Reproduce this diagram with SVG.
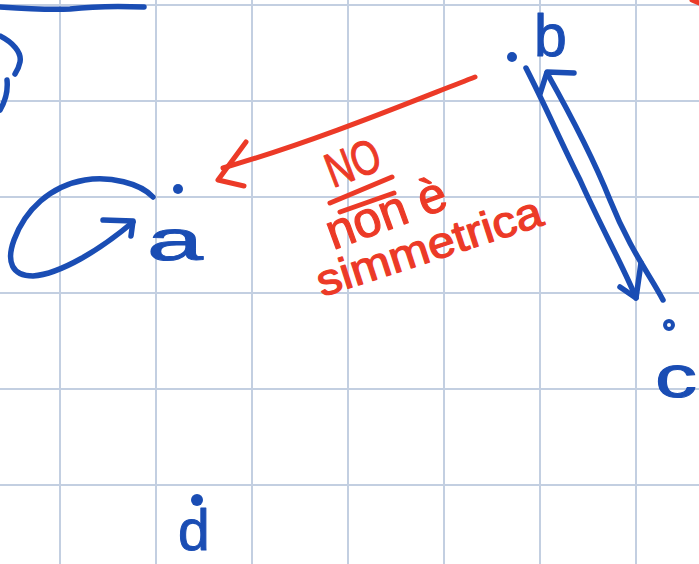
<svg xmlns="http://www.w3.org/2000/svg" width="699" height="564" viewBox="0 0 699 564">
<style>
.grid line{stroke:#c3cfe1;stroke-width:2}
.blue{fill:none;stroke:#1a4db4;stroke-width:5.5;stroke-linecap:round;stroke-linejoin:round}
.red{fill:none;stroke:#ec3a27;stroke-width:5;stroke-linecap:round;stroke-linejoin:round}
.lbl{font-family:"Liberation Sans","Noto Sans",sans-serif;fill:#1a4db4;stroke:#1a4db4;stroke-width:1;stroke-linejoin:round}
.note{font-family:"Liberation Sans","Noto Sans",sans-serif;fill:#ec3a27;stroke:#ec3a27;stroke-width:1.2;stroke-linejoin:round}
.dot{fill:#1a4db4}
</style>
<rect width="699" height="564" fill="#ffffff"/>
<g class="grid">
<line x1="60" y1="0" x2="60" y2="564"/>
<line x1="156" y1="0" x2="156" y2="564"/>
<line x1="252" y1="0" x2="252" y2="564"/>
<line x1="348" y1="0" x2="348" y2="564"/>
<line x1="444" y1="0" x2="444" y2="564"/>
<line x1="540" y1="0" x2="540" y2="564"/>
<line x1="636" y1="0" x2="636" y2="564"/>
<line x1="0" y1="5" x2="699" y2="5"/>
<line x1="0" y1="101" x2="699" y2="101"/>
<line x1="0" y1="197" x2="699" y2="197"/>
<line x1="0" y1="293" x2="699" y2="293"/>
<line x1="0" y1="389" x2="699" y2="389"/>
<line x1="0" y1="485" x2="699" y2="485"/>
</g>
<g id="fragments">
<path class="blue" d="M0,7 C30,9 50,10 70,9 C95,6 120,6 144,7"/>
<path class="blue" d="M0,36 C12,42 22,52 20,62 C19,67 17,71 15,74"/>
<path class="blue" d="M7,80 C8,90 6,100 0,110"/>
<path class="red" d="M692,0 L699,3"/>
</g>
<g id="connectors">
<path class="blue" d="M153,197 C140,183 110,176 85,180 C50,186 25,210 14,240 C6,262 12,276 33,276 C60,274 100,250 133,222"/>
<path class="blue" d="M103,220 L133,221 L131,236"/>
<path class="blue" d="M526,68 C545,105 560,140 580,180 C600,225 625,270 636,298"/>
<path class="blue" d="M620,287 L636,298 L641,263"/>
<path class="blue" d="M547,73 C565,105 590,150 610,200 C630,250 650,275 663,300"/>
<path class="blue" d="M574,73 L547,72 L540,94"/>
<path class="red" d="M475,77 C420,98 320,140 223,168"/>
<path class="red" d="M246,142 L218,180 L244,186"/>
</g>
<g id="node-a">
<circle class="dot" cx="178" cy="189" r="5"/>
<text class="lbl" x="147" y="260" font-size="58" textLength="56" lengthAdjust="spacingAndGlyphs">a</text>
</g>
<g id="node-b">
<circle class="dot" cx="512" cy="57" r="5"/>
<text class="lbl" x="534" y="56" font-size="59">b</text>
</g>
<g id="node-c">
<circle cx="669" cy="325" r="4" fill="none" stroke="#1a4db4" stroke-width="4"/>
<text class="lbl" x="655" y="397" font-size="60" textLength="42" lengthAdjust="spacingAndGlyphs">c</text>
</g>
<g id="node-d">
<circle class="dot" cx="197" cy="500" r="6"/>
<text class="lbl" x="178" y="550" font-size="57">d</text>
</g>
<g id="annotation">
<text class="note" x="333" y="188" font-size="48" textLength="55" lengthAdjust="spacingAndGlyphs" transform="rotate(-21 333 188)">NO</text>
<path class="red" d="M330,203 L392,177"/>
<path class="red" d="M340,212 L394,193"/>
<text class="note" x="333" y="250" font-size="50" textLength="125" lengthAdjust="spacingAndGlyphs" transform="rotate(-20 333 250)">non è</text>
<text class="note" x="322" y="297" font-size="44" textLength="235" lengthAdjust="spacingAndGlyphs" transform="rotate(-18 322 297)">simmetrica</text>
</g>
</svg>
